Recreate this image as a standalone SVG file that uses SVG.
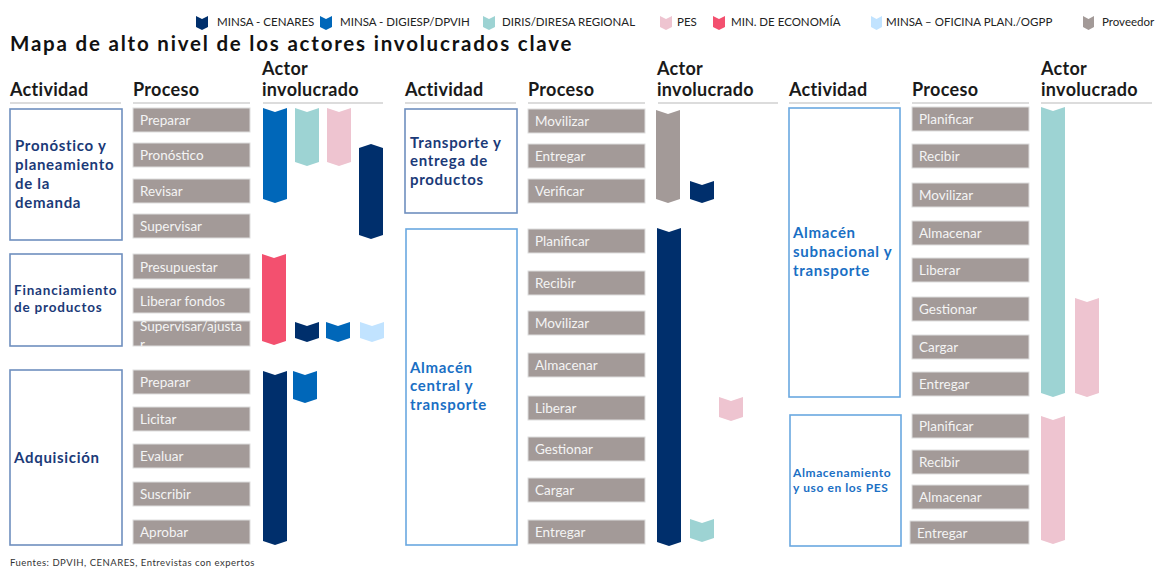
<svg xmlns="http://www.w3.org/2000/svg" width="1155" height="568" viewBox="0 0 1155 568">
<defs>
<style>
text{font-family:Lato,"Open Sans","Liberation Sans",sans-serif}
.leg{font-size:11.5px;fill:#222}
.title{font-size:20.5px;font-weight:700;fill:#111;letter-spacing:1.8px}
.hdr{font-size:18px;font-weight:700;fill:#1a1a1a;letter-spacing:0.3px}
.rule{stroke:#dcdcdc;stroke-width:2}
.proc{fill:#a39a98;stroke:#dedede;stroke-width:1}
.pt{font-size:13.5px;fill:#f4f4f4}
.act1{fill:#fff;stroke:#6f8fbf;stroke-width:1.6}
.act2{fill:#fff;stroke:#6aa8e0;stroke-width:1.6}
.at1{font-size:15px;font-weight:700;fill:#1b3a78;letter-spacing:0.7px}
.at2{font-size:15px;font-weight:700;fill:#1a6fc4;letter-spacing:0.7px}
.cen{fill:#002f6c}.dig{fill:#0067b9}.dir{fill:#9dd3d3}.pes{fill:#eec4d0}.mef{fill:#f3506f}.ogp{fill:#c1e3ff}.prv{fill:#a39a98}
.foot{font-size:9.5px;fill:#333;letter-spacing:0.5px}
</style>
<clipPath id="clipSA"><rect x="133" y="321" width="117" height="25"/></clipPath>
</defs>
<rect width="1155" height="568" fill="#fff"/>

<g id="legend">
<path class="cen" d="M196,16 L202,19 L208,16 L208,27 L202,30 L196,27 Z"/>
<text class="leg" x="217" y="26">MINSA - CENARES</text>
<path class="dig" d="M320,16 L326,19 L332,16 L332,27 L326,30 L320,27 Z"/>
<text class="leg" x="340" y="26">MINSA - DIGIESP/DPVIH</text>
<path class="dir" d="M483,16 L489,19 L495,16 L495,27 L489,30 L483,27 Z"/>
<text class="leg" x="502" y="26">DIRIS/DIRESA REGIONAL</text>
<path class="pes" d="M660,16 L666,19 L672,16 L672,27 L666,30 L660,27 Z"/>
<text class="leg" x="677" y="26">PES</text>
<path class="mef" d="M713,16 L719,19 L725,16 L725,27 L719,30 L713,27 Z"/>
<text class="leg" x="731" y="26">MIN. DE ECONOMÍA</text>
<path class="ogp" d="M871,16 L876.5,19 L882,16 L882,27 L876.5,30 L871,27 Z"/>
<text class="leg" x="886" y="26">MINSA – OFICINA PLAN./OGPP</text>
<path class="prv" d="M1083,16 L1088.5,19 L1094,16 L1094,27 L1088.5,30 L1083,27 Z"/>
<text class="leg" x="1102" y="26">Proveedor</text>
</g>

<text class="title" x="10" y="51">Mapa de alto nivel de los actores involucrados clave</text>

<g id="headers">
<text class="hdr" x="10" y="96">Actividad</text>
<text class="hdr" x="133" y="96">Proceso</text>
<text class="hdr" x="262" y="75">Actor</text>
<text class="hdr" x="262" y="96">involucrado</text>
<line class="rule" x1="10" y1="103" x2="121" y2="103"/>
<line class="rule" x1="133" y1="103" x2="250" y2="103"/>
<line class="rule" x1="263" y1="103" x2="383" y2="103"/>
<text class="hdr" x="405" y="96">Actividad</text>
<text class="hdr" x="528" y="96">Proceso</text>
<text class="hdr" x="657" y="75">Actor</text>
<text class="hdr" x="657" y="96">involucrado</text>
<line class="rule" x1="405" y1="103" x2="516" y2="103"/>
<line class="rule" x1="528" y1="103" x2="645" y2="103"/>
<line class="rule" x1="658" y1="103" x2="778" y2="103"/>
<text class="hdr" x="789" y="96">Actividad</text>
<text class="hdr" x="912" y="96">Proceso</text>
<text class="hdr" x="1041" y="75">Actor</text>
<text class="hdr" x="1041" y="96">involucrado</text>
<line class="rule" x1="789" y1="103" x2="900" y2="103"/>
<line class="rule" x1="912" y1="103" x2="1029" y2="103"/>
<line class="rule" x1="1041" y1="103" x2="1152" y2="103"/>
</g>

<!-- Activity nodes -->
<g id="act-pronostico">
<rect class="act1" x="10" y="109" width="112" height="131"/>
<text class="at1" x="15" y="151">Pronóstico y</text>
<text class="at1" x="15" y="170">planeamiento</text>
<text class="at1" x="15" y="189">de la</text>
<text class="at1" x="15" y="208">demanda</text>
</g>
<g id="act-financiamiento">
<rect class="act1" x="10" y="254" width="112" height="92"/>
<text class="at1" x="14" y="295" style="font-size:13.5px;letter-spacing:0.8px">Financiamiento</text>
<text class="at1" x="14" y="312" style="font-size:13.5px;letter-spacing:0.8px">de productos</text>
</g>
<g id="act-adquisicion">
<rect class="act1" x="10" y="370" width="112" height="175"/>
<text class="at1" x="14" y="463">Adquisición</text>
</g>
<g id="act-transporte">
<rect class="act1" x="405" y="109" width="112" height="104"/>
<text class="at1" x="410" y="148">Transporte y</text>
<text class="at1" x="410" y="166">entrega de</text>
<text class="at1" x="410" y="185">productos</text>
</g>
<g id="act-almacen-central">
<rect class="act2" x="406" y="229" width="111" height="316"/>
<text class="at2" x="410" y="373">Almacén</text>
<text class="at2" x="410" y="391">central y</text>
<text class="at2" x="410" y="410">transporte</text>
</g>
<g id="act-almacen-subnacional">
<rect class="act2" x="789" y="108" width="111" height="289"/>
<text class="at2" x="793" y="238">Almacén</text>
<text class="at2" x="793" y="257">subnacional y</text>
<text class="at2" x="793" y="276">transporte</text>
</g>
<g id="act-almacenamiento-pes">
<rect class="act2" x="790" y="415" width="111" height="131"/>
<text class="at2" x="793" y="477" style="font-size:12px;letter-spacing:0.6px">Almacenamiento</text>
<text class="at2" x="793" y="492" style="font-size:12px;letter-spacing:0.6px">y uso en los PES</text>
</g>

<!-- Process nodes: left -->
<g id="p-l-preparar"><rect class="proc" x="133" y="108" width="117" height="24"/><text class="pt" x="140" y="125">Preparar</text></g>
<g id="p-l-pronostico"><rect class="proc" x="133" y="143" width="117" height="24"/><text class="pt" x="140" y="160">Pronóstico</text></g>
<g id="p-l-revisar"><rect class="proc" x="133" y="179" width="117" height="24"/><text class="pt" x="140" y="196">Revisar</text></g>
<g id="p-l-supervisar"><rect class="proc" x="133" y="214" width="117" height="24"/><text class="pt" x="140" y="231">Supervisar</text></g>
<g id="p-l-presupuestar"><rect class="proc" x="133" y="254" width="117" height="25"/><text class="pt" x="140" y="272">Presupuestar</text></g>
<g id="p-l-liberar"><rect class="proc" x="133" y="288" width="117" height="25"/><text class="pt" x="140" y="306">Liberar fondos</text></g>
<g id="p-l-supervisar-ajustar"><rect class="proc" x="133" y="321" width="117" height="25"/><g clip-path="url(#clipSA)"><text class="pt" x="140" y="331">Supervisar/ajusta</text><text class="pt" x="140" y="349">r</text></g></g>
<g id="p-l-preparar2"><rect class="proc" x="133" y="370" width="117" height="24"/><text class="pt" x="140" y="387">Preparar</text></g>
<g id="p-l-licitar"><rect class="proc" x="133" y="407" width="117" height="24"/><text class="pt" x="140" y="424">Licitar</text></g>
<g id="p-l-evaluar"><rect class="proc" x="133" y="444" width="117" height="24"/><text class="pt" x="140" y="461">Evaluar</text></g>
<g id="p-l-suscribir"><rect class="proc" x="133" y="482" width="117" height="24"/><text class="pt" x="140" y="499">Suscribir</text></g>
<g id="p-l-aprobar"><rect class="proc" x="133" y="520" width="117" height="24"/><text class="pt" x="140" y="537">Aprobar</text></g>

<!-- Process nodes: middle -->
<g id="p-m-movilizar"><rect class="proc" x="528" y="109" width="117" height="24"/><text class="pt" x="535" y="126">Movilizar</text></g>
<g id="p-m-entregar"><rect class="proc" x="528" y="144" width="117" height="24"/><text class="pt" x="535" y="161">Entregar</text></g>
<g id="p-m-verificar"><rect class="proc" x="528" y="179" width="117" height="24"/><text class="pt" x="535" y="196">Verificar</text></g>
<g id="p-m-planificar"><rect class="proc" x="528" y="229" width="117" height="24"/><text class="pt" x="535" y="246">Planificar</text></g>
<g id="p-m-recibir"><rect class="proc" x="528" y="271" width="117" height="24"/><text class="pt" x="535" y="288">Recibir</text></g>
<g id="p-m-movilizar2"><rect class="proc" x="528" y="311" width="117" height="24"/><text class="pt" x="535" y="328">Movilizar</text></g>
<g id="p-m-almacenar"><rect class="proc" x="528" y="353" width="117" height="24"/><text class="pt" x="535" y="370">Almacenar</text></g>
<g id="p-m-liberar"><rect class="proc" x="528" y="396" width="117" height="24"/><text class="pt" x="535" y="413">Liberar</text></g>
<g id="p-m-gestionar"><rect class="proc" x="528" y="437" width="117" height="24"/><text class="pt" x="535" y="454">Gestionar</text></g>
<g id="p-m-cargar"><rect class="proc" x="528" y="478" width="117" height="24"/><text class="pt" x="535" y="495">Cargar</text></g>
<g id="p-m-entregar2"><rect class="proc" x="528" y="520" width="117" height="24"/><text class="pt" x="535" y="537">Entregar</text></g>

<!-- Process nodes: right -->
<g id="p-r-planificar"><rect class="proc" x="912" y="107" width="117" height="24"/><text class="pt" x="919" y="124">Planificar</text></g>
<g id="p-r-recibir"><rect class="proc" x="912" y="144" width="117" height="24"/><text class="pt" x="919" y="161">Recibir</text></g>
<g id="p-r-movilizar"><rect class="proc" x="912" y="183" width="117" height="24"/><text class="pt" x="919" y="200">Movilizar</text></g>
<g id="p-r-almacenar"><rect class="proc" x="912" y="221" width="117" height="24"/><text class="pt" x="919" y="238">Almacenar</text></g>
<g id="p-r-liberar"><rect class="proc" x="912" y="258" width="117" height="24"/><text class="pt" x="919" y="275">Liberar</text></g>
<g id="p-r-gestionar"><rect class="proc" x="912" y="297" width="117" height="24"/><text class="pt" x="919" y="314">Gestionar</text></g>
<g id="p-r-cargar"><rect class="proc" x="912" y="335" width="117" height="24"/><text class="pt" x="919" y="352">Cargar</text></g>
<g id="p-r-entregar"><rect class="proc" x="912" y="372" width="117" height="24"/><text class="pt" x="919" y="389">Entregar</text></g>
<g id="p-r-planificar2"><rect class="proc" x="912" y="414" width="117" height="24"/><text class="pt" x="919" y="431">Planificar</text></g>
<g id="p-r-recibir2"><rect class="proc" x="912" y="450" width="117" height="24"/><text class="pt" x="919" y="467">Recibir</text></g>
<g id="p-r-almacenar2"><rect class="proc" x="912" y="485" width="117" height="24"/><text class="pt" x="919" y="502">Almacenar</text></g>
<g id="p-r-entregar2"><rect class="proc" x="910" y="521" width="119" height="23"/><text class="pt" x="917" y="538">Entregar</text></g>

<!-- Actor bars -->
<g id="actors">
<path class="dig" d="M263,108 L275,112 L287,108 L287,199 L275,203 L263,199 Z"/>
<path class="dir" d="M295,108 L307,112 L319,108 L319,162 L307,166 L295,162 Z"/>
<path class="pes" d="M327,108 L339,112 L351,108 L351,162 L339,166 L327,162 Z"/>
<path class="cen" d="M359,148 L371,144 L383,148 L383,235 L371,239 L359,235 Z"/>
<path class="mef" d="M262,254 L274,258 L286,254 L286,341 L274,345 L262,341 Z"/>
<path class="cen" d="M295,322 L307,326 L319,322 L319,338 L307,342 L295,338 Z"/>
<path class="dig" d="M326,322 L338,326 L350,322 L350,338 L338,342 L326,338 Z"/>
<path class="ogp" d="M360,322 L372,326 L384,322 L384,338 L372,342 L360,338 Z"/>
<path class="cen" d="M263,371 L275,375 L287,371 L287,541 L275,545 L263,541 Z"/>
<path class="dig" d="M293,371 L305,375 L317,371 L317,399 L305,403 L293,399 Z"/>
<path class="prv" d="M656,110 L668,114 L680,110 L680,199 L668,203 L656,199 Z"/>
<path class="cen" d="M690,181 L702,185 L714,181 L714,199 L702,203 L690,199 Z"/>
<path class="cen" d="M657,228 L669,232 L681,228 L681,542 L669,546 L657,542 Z"/>
<path class="pes" d="M719,397 L731,401 L743,397 L743,417 L731,421 L719,417 Z"/>
<path class="dir" d="M690,519 L702,523 L714,519 L714,538 L702,542 L690,538 Z"/>
<path class="dir" d="M1041,107 L1053,111 L1065,107 L1065,393 L1053,397 L1041,393 Z"/>
<path class="pes" d="M1075,298 L1087,302 L1099,298 L1099,393 L1087,397 L1075,393 Z"/>
<path class="pes" d="M1041,416 L1053,420 L1065,416 L1065,540 L1053,544 L1041,540 Z"/>
</g>
<g id="connectors"/>

<text class="foot" x="10" y="566">Fuentes: DPVIH, CENARES, Entrevistas con expertos</text>
</svg>
